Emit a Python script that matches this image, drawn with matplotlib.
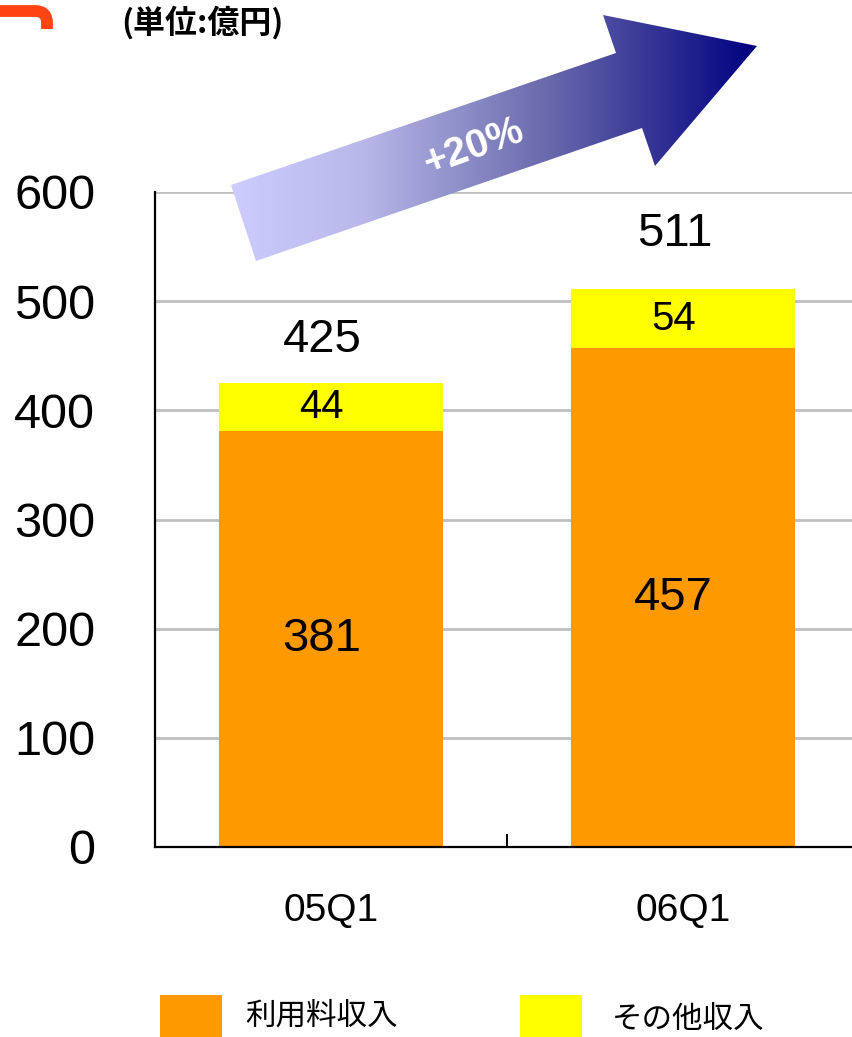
import matplotlib
matplotlib.use("Agg")
import matplotlib.pyplot as plt
import numpy as np
from matplotlib.path import Path
from matplotlib.patches import PathPatch, Polygon, Rectangle
from matplotlib.colors import LinearSegmentedColormap

plt.rcParams['font.family'] = ['Liberation Sans', 'Noto Sans CJK JP', 'DejaVu Sans']

quarters = ['05Q1', '06Q1']
usage_fee = [381, 457]      # 利用料収入
other = [44, 54]            # その他収入
totals = [425, 511]
series_names = ['利用料収入', 'その他収入']
growth_label = '+20%'
unit_label = '(単位:億円)'

ORANGE = '#FF9900'
YELLOW = '#FFFF00'

W, H = 853, 1037
fig = plt.figure(figsize=(W / 100, H / 100), dpi=100)

# main bar axes (pixel box: x 155..859, y 192..847)
ax = fig.add_axes([155 / W, (H - 847) / H, (859 - 155) / W, (847 - 192) / H])
x = np.arange(len(quarters))
bw = 0.635
ax.bar(x, usage_fee, bw, color=ORANGE, zorder=2)
ax.bar(x, other, bw, bottom=usage_fee, color=YELLOW, zorder=2)

ax.set_xlim(-0.5, 1.5)
ax.set_ylim(0, 600)
ax.set_yticks(range(0, 601, 100))
ax.yaxis.grid(True, color='#C0C0C0', linewidth=2)
ax.set_axisbelow(True)
for s in ['top', 'right']:
    ax.spines[s].set_visible(False)
ax.spines['left'].set_linewidth(1.6)
ax.spines['bottom'].set_linewidth(1.6)
ax.tick_params(axis='y', length=0, pad=43, labelsize=35)
ax.set_xticks(x)
ax.set_xticklabels(quarters)
ax.tick_params(axis='x', which='major', length=0, pad=33, labelsize=28)
ax.set_xticks([0.5], minor=True)
ax.tick_params(axis='x', which='minor', direction='in', length=9.5, width=1.4)

# segment values and totals
for i in range(len(quarters)):
    ax.annotate(str(usage_fee[i]), (x[i], usage_fee[i] / 2), xytext=(-7, 0),
                textcoords='offset points', ha='center', va='center', fontsize=34)
    ax.annotate(str(other[i]), (x[i], usage_fee[i] + other[i] / 2), xytext=(-7, 0),
                textcoords='offset points', ha='center', va='center', fontsize=29)
total_gap = [31, 40]
for i in range(len(quarters)):
    ax.annotate(str(totals[i]), (x[i], totals[i]), xytext=(-6, total_gap[i]),
                textcoords='offset points', ha='center', va='center', fontsize=34)

# overlay in pixel coordinates for the decorations
ov = fig.add_axes([0, 0, 1, 1], zorder=5)
ov.set_xlim(0, W)
ov.set_ylim(H, 0)
ov.axis('off')
ov.patch.set_visible(False)

# growth arrow with horizontal gradient
arrow_pts = [(231, 185), (616, 53), (603, 15), (757, 46),
             (655, 166), (642, 128), (256, 261)]
arrow = Polygon(arrow_pts, closed=True, facecolor='none', edgecolor='none')
ov.add_patch(arrow)
cmap = LinearSegmentedColormap.from_list(
    'arrow', [(0, '#CCCCFF'), (0.25, '#B8B8EA'), (0.6, '#6A6AAC'), (1, '#000080')])
grad = np.linspace(0, 1, 256).reshape(1, -1)
img = ov.imshow(grad, cmap=cmap, extent=[231, 757, 270, 10], aspect='auto')
img.set_clip_path(arrow)
ov.text(473, 147, growth_label, color='white', fontsize=29, fontweight='bold',
        rotation=20, ha='center', va='center', rotation_mode='anchor')

# unit label and corner mark
ov.text(121, 23, unit_label, fontsize=23, fontweight='bold', ha='left', va='center',
        family=['Noto Sans CJK JP', 'DejaVu Sans'])
hook = Path([(0, 11), (35, 11), (47, 11), (47, 23), (47, 29)],
            [Path.MOVETO, Path.LINETO, Path.CURVE3, Path.CURVE3, Path.LINETO])
ov.add_patch(PathPatch(hook, facecolor='none', edgecolor='#FF4514', linewidth=8.5,
                       capstyle='butt'))

# legend
ov.add_patch(Rectangle((160, 995), 62, 50, facecolor=ORANGE, edgecolor='none'))
ov.add_patch(Rectangle((520, 995), 62, 50, facecolor=YELLOW, edgecolor='none'))
ov.text(245, 1016, series_names[0], fontsize=22, ha='left', va='center',
        family=['Noto Sans CJK JP', 'DejaVu Sans'])
ov.text(612, 1020, series_names[1], fontsize=22, ha='left', va='center',
        family=['Noto Sans CJK JP', 'DejaVu Sans'])

fig.savefig('out.png', dpi=100)
